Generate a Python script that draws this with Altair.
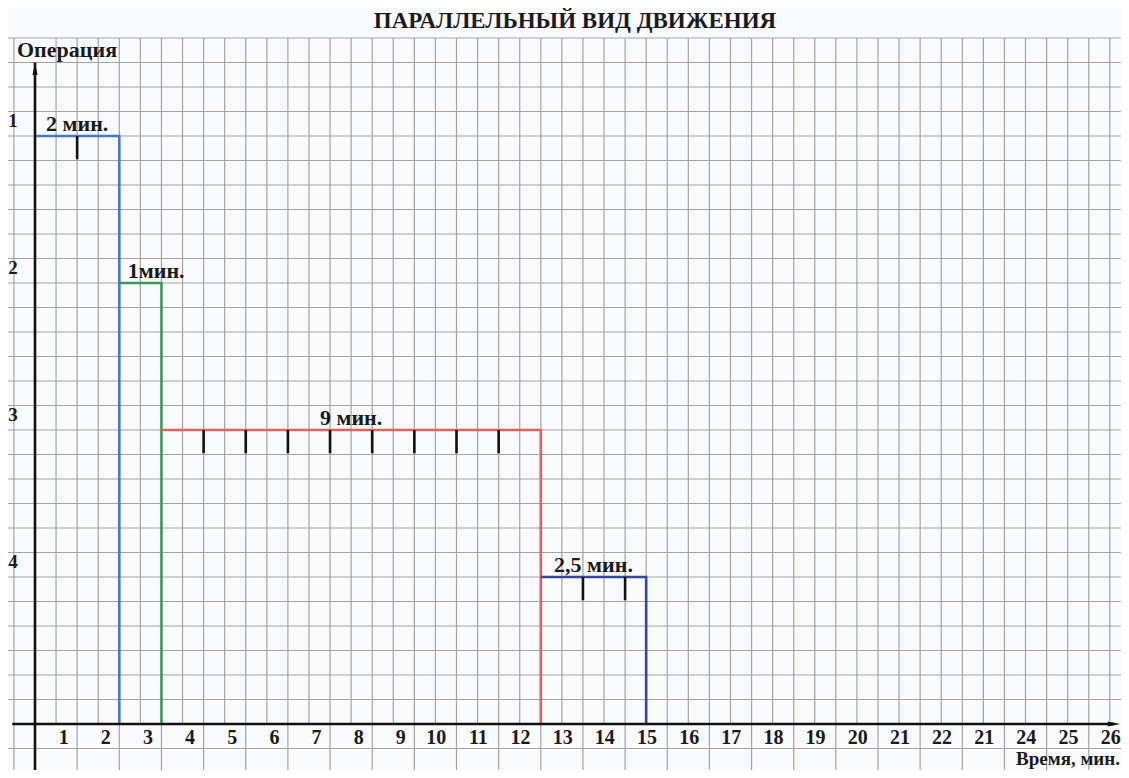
import altair as alt
import pandas as pd

# ---------------- data ----------------
title_text = "ПАРАЛЛЕЛЬНЫЙ ВИД ДВИЖЕНИЯ"
y_title = "Операция"
x_title = "Время, мин."

operations = ["1", "2", "3", "4"]
starts = [0, 2, 3, 12]                 # minutes
durations = [2, 1, 9, 2.5]             # minutes
levels = [24, 18, 12, 6]               # height of each operation (grid cells)
duration_labels = ["2 мин.", "1мин.", "9 мин.", "2,5 мин."]
transfer_marks = [[1], [], [4, 5, 6, 7, 8, 9, 10, 11], [13, 14]]
op_colors = ["#4a78c8", "#3f9a4f", "#e0625a", "#34469e"]

x_tick_labels = ["1", "2", "3", "4", "5", "6", "7", "8", "9", "10", "11", "12", "13",
                 "14", "15", "16", "17", "18", "19", "20", "21", "22", "21", "24", "25", "26"]

# ---------------- layout ----------------
W, H = 1113, 732
PX_PER_MIN = 42.15
PX_PER_CELL = 24.5
X_DOMAIN = [-27 / PX_PER_MIN, (W - 27) / PX_PER_MIN]
Y_DOMAIN = [28 - H / PX_PER_CELL, 28]
FONT = "Liberation Serif, DejaVu Serif, serif"
GRID_COLOR = "#a3a3a3"
INK = "#1a1a1a"

xs = alt.Scale(domain=X_DOMAIN, nice=False, zero=False)
ys = alt.Scale(domain=Y_DOMAIN, nice=False, zero=False)
X = lambda f: alt.X(f, scale=xs, axis=None)
Y = lambda f: alt.Y(f, scale=ys, axis=None)

# ---------------- grid (graph paper) ----------------
n_min = len(x_tick_labels)
v_full = pd.DataFrame({"x": [-0.5] + list(range(1, n_min + 1)), "top": Y_DOMAIN[1]})
v_half = pd.DataFrame({"x": [k + 0.5 for k in range(0, n_min)], "bot": 0, "top": Y_DOMAIN[1]})
h_lines = pd.DataFrame({"y": [-1] + list(range(1, int(Y_DOMAIN[1]) + 1))})

grid_full = alt.Chart(v_full).mark_rule(color=GRID_COLOR, strokeWidth=1.2).encode(
    x=X("x:Q"), y=Y("top:Q"), y2=alt.value(H))
grid_half = alt.Chart(v_half).mark_rule(color=GRID_COLOR, strokeWidth=1.2).encode(
    x=X("x:Q"), y=Y("top:Q"), y2="bot:Q")
grid_h = alt.Chart(h_lines).mark_rule(color=GRID_COLOR, strokeWidth=1.2).encode(
    y=Y("y:Q"), x=alt.value(0), x2=alt.value(W))

# ---------------- main axes ----------------
yaxis_df = pd.DataFrame({"x": [0], "y1": [27], "y2": [Y_DOMAIN[0]]})
xaxis_df = pd.DataFrame({"y": [0], "x1": [-0.54], "x2": [25.6]})
yaxis = alt.Chart(yaxis_df).mark_rule(color="#111", strokeWidth=2.6).encode(
    x=X("x:Q"), y=Y("y1:Q"), y2="y2:Q")
xaxis = alt.Chart(xaxis_df).mark_rule(color="#111", strokeWidth=2.6).encode(
    y=Y("y:Q"), x=X("x1:Q"), x2="x2:Q")
arrow_up = alt.Chart(pd.DataFrame({"x": [0], "y": [26.75]})).mark_point(
    shape="M0,-1L0.4,1L-0.4,1Z", filled=True, color="#111", size=160, opacity=1).encode(
    x=X("x:Q"), y=Y("y:Q"))
arrow_right = alt.Chart(pd.DataFrame({"x": [25.6], "y": [0]})).mark_point(
    shape="M1,0L-1,0.4L-1,-0.4Z", filled=True, color="#111", size=160, opacity=1).encode(
    x=X("x:Q"), y=Y("y:Q"))

# ---------------- step lines ----------------
rows = []
for op, s, d, lv in zip(operations, starts, durations, levels):
    e = s + d
    rows += [{"op": op, "x": s, "y": lv, "o": 0},
             {"op": op, "x": e, "y": lv, "o": 1},
             {"op": op, "x": e, "y": 0, "o": 2}]
steps = alt.Chart(pd.DataFrame(rows)).mark_line(strokeWidth=2.6, strokeJoin="miter").encode(
    x=X("x:Q"), y=Y("y:Q"), order="o:Q", detail="op:N",
    color=alt.Color("op:N", scale=alt.Scale(domain=operations, range=op_colors), legend=None))

# transfer marks
tick_rows = []
for lv, marks in zip(levels, transfer_marks):
    for t in marks:
        tick_rows.append({"x": t, "y1": lv, "y2": lv - 0.95})
ticks = alt.Chart(pd.DataFrame(tick_rows)).mark_rule(color="#111", strokeWidth=2.6).encode(
    x=X("x:Q"), y=Y("y1:Q"), y2="y2:Q")

# ---------------- texts ----------------
lab_rows = []
for s, d, lv, txt in zip(starts, durations, levels, duration_labels):
    lab_rows.append({"x": s + d / 2 if d >= 2 else s + 0.2, "y": lv, "t": txt,
                     "al": "c" if d >= 2 else "l"})
lab_df = pd.DataFrame(lab_rows)
txt_style = dict(font=FONT, fontWeight="bold", fontSize=22, color=INK)
dur_c = alt.Chart(lab_df[lab_df.al == "c"]).mark_text(
    align="center", baseline="alphabetic", dy=-5, **txt_style).encode(
    x=X("x:Q"), y=Y("y:Q"), text="t:N")
dur_l = alt.Chart(lab_df[lab_df.al == "l"]).mark_text(
    align="left", baseline="alphabetic", dy=-5, **txt_style).encode(
    x=X("x:Q"), y=Y("y:Q"), text="t:N")

op_df = pd.DataFrame({"t": operations, "y": [lv + 0.6 for lv in levels], "x": -0.52})
op_text = alt.Chart(op_df).mark_text(
    align="center", baseline="middle", font=FONT, fontWeight="bold", fontSize=19, color=INK).encode(
    x=X("x:Q"), y=Y("y:Q"), text="t:N")

xt_df = pd.DataFrame({"t": x_tick_labels,
                      "x": [k + 1 - (0.32 if len(lbl) == 1 else 0.48)
                            for k, lbl in enumerate(x_tick_labels)],
                      "y": -0.56})
xt_text = alt.Chart(xt_df).mark_text(
    align="center", baseline="middle", font=FONT, fontWeight="bold", fontSize=20, color=INK).encode(
    x=X("x:Q"), y=Y("y:Q"), text="t:N")

title = alt.Chart(pd.DataFrame({"t": [title_text]})).mark_text(
    align="center", baseline="middle", font=FONT, fontWeight="bold", fontSize=23, color=INK).encode(
    x=alt.value(567), y=alt.value(-17), text="t:N")
ytitle = alt.Chart(pd.DataFrame({"t": [y_title]})).mark_text(
    align="left", baseline="middle", font=FONT, fontWeight="bold", fontSize=22, color=INK).encode(
    x=alt.value(9), y=alt.value(12), text="t:N")
xtitle = alt.Chart(pd.DataFrame({"t": [x_title]})).mark_text(
    align="right", baseline="alphabetic", font=FONT, fontWeight="bold", fontSize=19, color=INK).encode(
    x=alt.value(W - 1), y=alt.value(H - 5), text="t:N")

chart = alt.layer(
    grid_full, grid_half, grid_h, steps, ticks, yaxis, xaxis, arrow_up, arrow_right,
    dur_c, dur_l, op_text, xt_text, title, ytitle, xtitle
).properties(
    width=W, height=H,
    autosize=alt.AutoSizeParams(type="none"),
    padding={"left": 0, "right": 0, "top": 30, "bottom": 0},
    background="#f9fafc",
).configure_view(stroke=None)

chart.save("out.html", embed_options={"renderer": "svg", "actions": False})
